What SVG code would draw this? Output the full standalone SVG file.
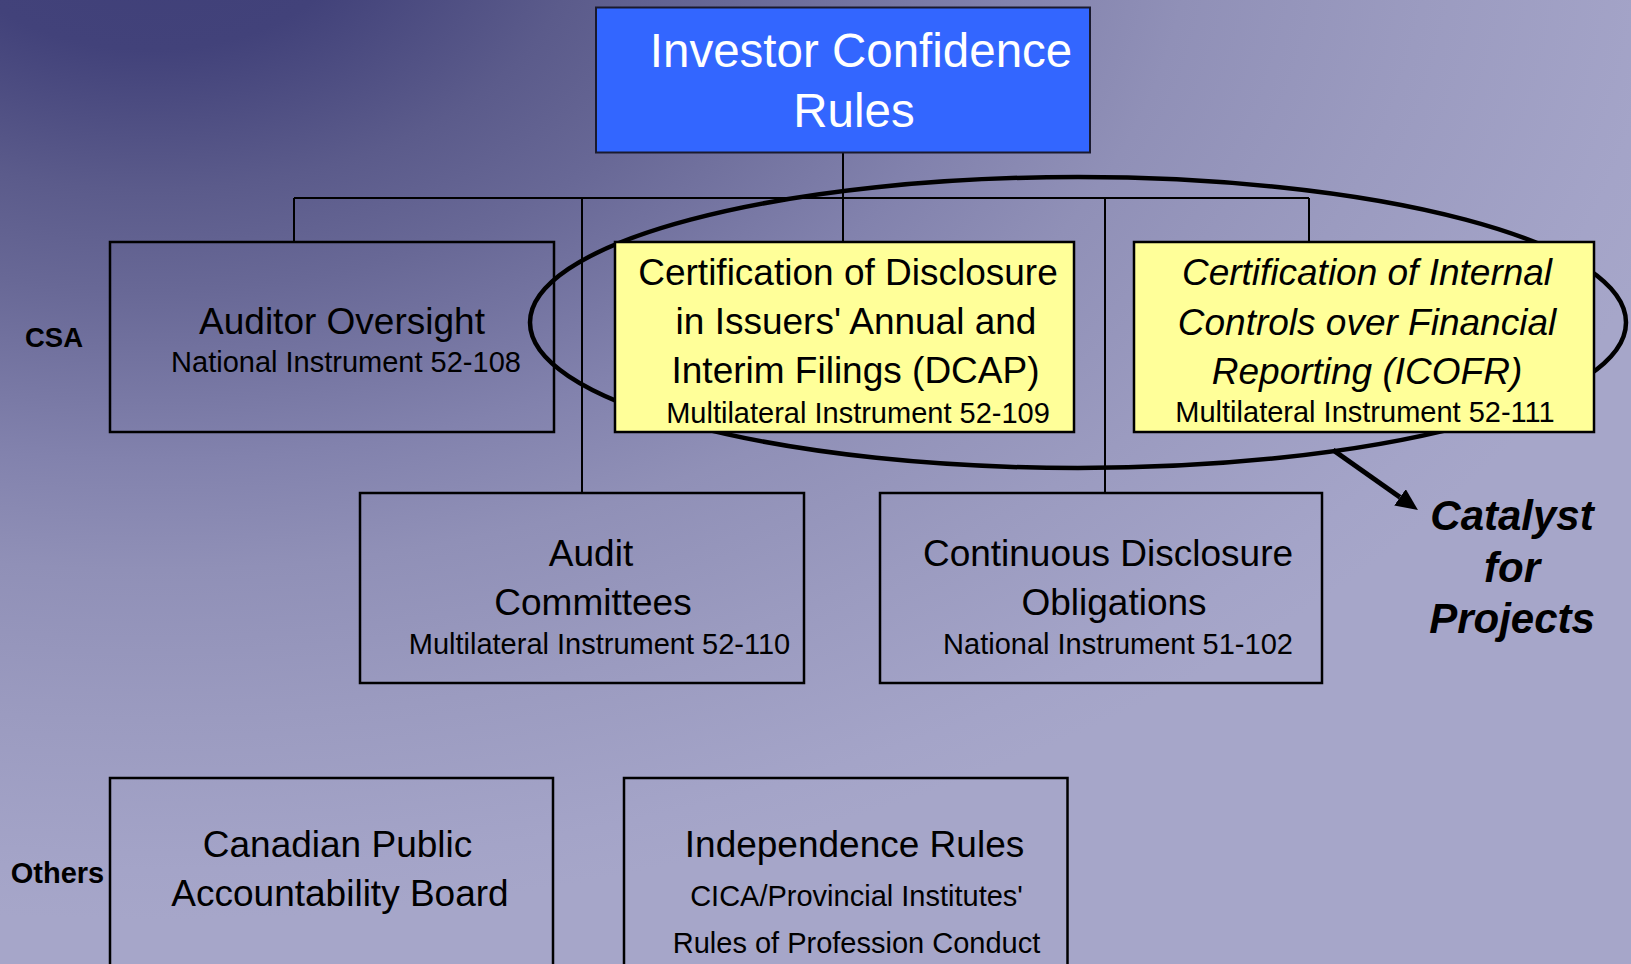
<svg xmlns="http://www.w3.org/2000/svg" width="1631" height="964" viewBox="0 0 1631 964">
<defs>
<radialGradient id="bg" gradientUnits="userSpaceOnUse" cx="0" cy="0" r="1000" gradientTransform="translate(150,-80) scale(1.6,1)">
<stop offset="0" stop-color="#3f3f78"/>
<stop offset="0.13" stop-color="#42427a"/>
<stop offset="0.27" stop-color="#5b5b8b"/>
<stop offset="0.37" stop-color="#686896"/>
<stop offset="0.54" stop-color="#8282ad"/>
<stop offset="0.65" stop-color="#9090b7"/>
<stop offset="0.8" stop-color="#9b9bc0"/>
<stop offset="0.95" stop-color="#a4a4c8"/>
<stop offset="1" stop-color="#a6a6c9"/>
</radialGradient>
<marker id="ah" markerUnits="userSpaceOnUse" markerWidth="24" markerHeight="22" refX="0" refY="10" orient="auto">
<path d="M0,0 L22,10 L0,20 z" fill="#000"/>
</marker>
<style>
text{font-family:"Liberation Sans",Arial,sans-serif;fill:#000;text-anchor:middle}
.big{font-size:37px}
.sm{font-size:29px}
.it{font-style:italic}
.lab{font-size:27.5px;font-weight:bold}
.cat{font-size:42px;font-weight:bold;font-style:italic}
.box{fill:none;stroke:#000;stroke-width:2.5}
.ybox{fill:#ffff99;stroke:#000;stroke-width:2.5}
.conn{stroke:#000;stroke-width:2;fill:none}
</style>
</defs>
<rect x="0" y="0" width="1631" height="964" fill="url(#bg)"/>

<g id="connectors">
<path class="conn" d="M843,153 V242 M294,198 H1309 M294,198 V242 M582,198 V493 M1105,198 V493 M1309,198 V242"/>
</g>

<g id="labels">
<text class="lab" x="54" y="347">CSA</text>
<text class="lab" x="57.5" y="883" style="font-size:29px">Others</text>
</g>

<g id="auditor-oversight">
<rect class="box" x="110" y="242" width="444" height="190"/>
<text class="big" x="342" y="334">Auditor Oversight</text>
<text class="sm" x="346" y="372">National Instrument 52-108</text>
</g>

<g id="audit-committees">
<rect class="box" x="360" y="493" width="444" height="190"/>
<text class="big" x="591" y="566">Audit</text>
<text class="big" x="593" y="615">Committees</text>
<text class="sm" x="599.5" y="654">Multilateral Instrument 52-110</text>
</g>

<g id="continuous-disclosure">
<rect class="box" x="880" y="493" width="442" height="190"/>
<text class="big" x="1108" y="566">Continuous Disclosure</text>
<text class="big" x="1114" y="615">Obligations</text>
<text class="sm" x="1118" y="654">National Instrument 51-102</text>
</g>

<g id="cpab">
<rect class="box" x="110" y="778" width="443" height="200"/>
<text class="big" x="337.5" y="857">Canadian Public</text>
<text class="big" x="340" y="905.5">Accountability Board</text>
</g>

<g id="independence-rules">
<rect class="box" x="624" y="778" width="443.5" height="200"/>
<text class="big" x="854.5" y="857">Independence Rules</text>
<text class="sm" x="856.5" y="905.5">CICA/Provincial Institutes'</text>
<text class="sm" x="856.5" y="953">Rules of Profession Conduct</text>
</g>

<g id="highlight-ellipse">
<ellipse cx="1078" cy="322.5" rx="548" ry="145.5" fill="none" stroke="#000" stroke-width="4.5"/>
</g>

<g id="dcap">
<rect class="ybox" x="615" y="242" width="459" height="190"/>
<text class="big" x="848" y="285">Certification of Disclosure</text>
<text class="big" x="856" y="334">in Issuers' Annual and</text>
<text class="big" x="855.5" y="383">Interim Filings (DCAP)</text>
<text class="sm" x="858" y="423">Multilateral Instrument 52-109</text>
</g>

<g id="icofr">
<rect class="ybox" x="1134" y="242" width="460" height="190"/>
<text class="big it" x="1367" y="285">Certification of Internal</text>
<text class="big it" x="1367" y="335">Controls over Financial</text>
<text class="big it" x="1367" y="383.5">Reporting (ICOFR)</text>
<text class="sm" x="1365" y="422">Multilateral Instrument 52-111</text>
</g>

<g id="investor-confidence-rules">
<rect x="596" y="7.5" width="494" height="145" fill="#3366ff" stroke="#1a1a2e" stroke-width="2"/>
<text style="font-size:47.5px;fill:#fff" x="861" y="67">Investor Confidence</text>
<text style="font-size:47.5px;fill:#fff" x="854" y="127">Rules</text>
</g>

<g id="catalyst-arrow">
<line x1="1333" y1="450" x2="1400" y2="497.3" stroke="#000" stroke-width="5" marker-end="url(#ah)"/>
</g>

<g id="catalyst">
<text class="cat" x="1512" y="530">Catalyst</text>
<text class="cat" x="1512" y="582">for</text>
<text class="cat" x="1512" y="633">Projects</text>
</g>
</svg>
